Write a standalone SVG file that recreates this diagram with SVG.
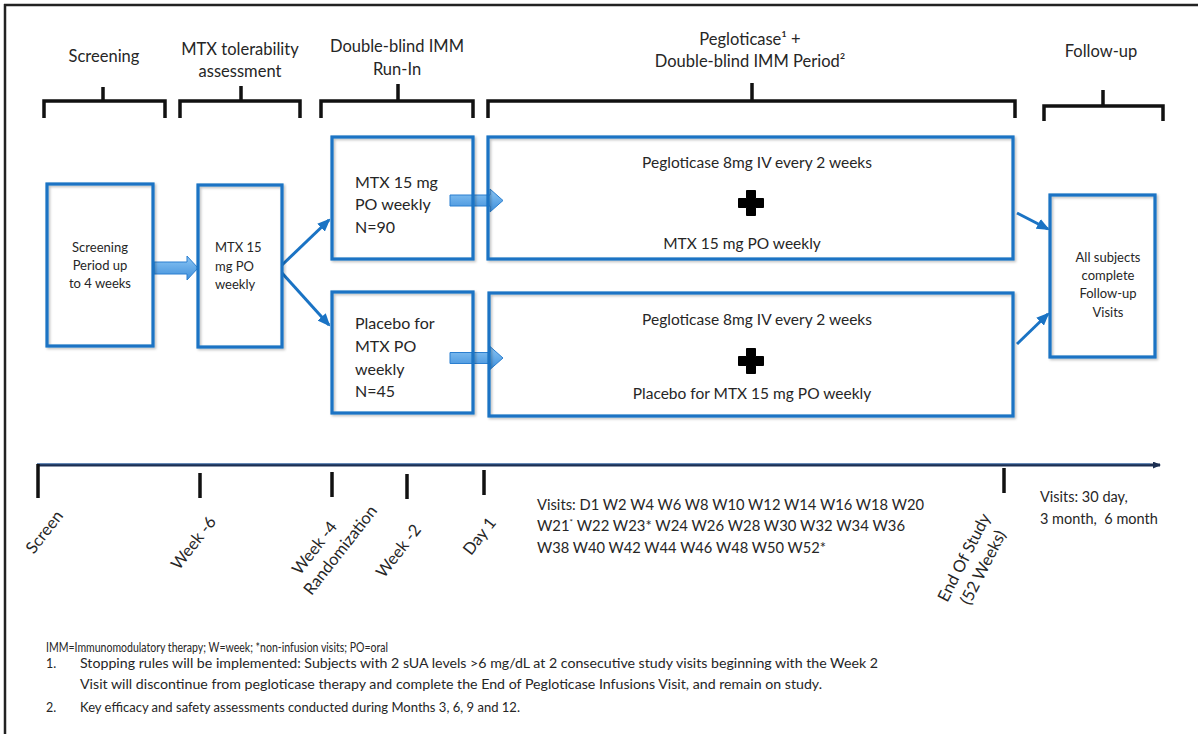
<svg xmlns="http://www.w3.org/2000/svg" width="1198" height="734" viewBox="0 0 1198 734">
<defs>
<style>
text{font-family:Lato,"Liberation Sans",sans-serif;fill:#262626}
.hd{font-size:16.5px;text-anchor:middle}
.box{fill:none;stroke:#1a73c4;stroke-width:3.2;filter:url(#sh)}
.br{fill:none;stroke:#111;stroke-width:3.5}
.con{fill:none;stroke:#1a73c4;stroke-width:3}
.blk{fill:url(#bg);stroke:#2b7fd0;stroke-width:1}
.sm{font-size:13px}
.md{font-size:16px}
.bx{font-size:15.5px;text-anchor:middle}
.tl{font-size:16.5px}
.vis{font-size:14.5px}
.fn{font-size:12.5px}
.tick{stroke:#111;stroke-width:3.5}
</style>
<linearGradient id="bg" x1="0" y1="0" x2="0" y2="1">
<stop offset="0" stop-color="#8cc6f4"/>
<stop offset="1" stop-color="#3f8fdb"/>
</linearGradient>
<filter id="sh" x="-5%" y="-5%" width="110%" height="110%">
<feDropShadow dx="1.5" dy="1.5" stdDeviation="1" flood-color="#000" flood-opacity="0.25"/>
</filter>
<marker id="ah" markerUnits="userSpaceOnUse" markerWidth="13" markerHeight="11" viewBox="0 0 13 11" refX="11" refY="5.5" orient="auto">
<path d="M0,0 L13,5.5 L0,11 Z" fill="#1a73c4"/>
</marker>
<marker id="tah" markerUnits="userSpaceOnUse" markerWidth="8" markerHeight="7" viewBox="0 0 8 7" refX="7" refY="3.5" orient="auto">
<path d="M0,0 L8,3.5 L0,7 Z" fill="#1c2f52"/>
</marker>
</defs>
<rect width="1198" height="734" fill="#fff"/>
<g id="frame"><path d="M4,5 H1198 M5,4 V734" fill="none" stroke="#222" stroke-width="2.5"/></g>

<g id="headers">
<text class="hd" x="104" y="62">Screening</text>
<text class="hd" x="240" y="55">MTX tolerability</text>
<text class="hd" x="240" y="77">assessment</text>
<text class="hd" x="397" y="52">Double-blind IMM</text>
<text class="hd" x="397" y="75">Run-In</text>
<text class="hd" x="750" y="45">Pegloticase¹ +</text>
<text class="hd" x="750" y="67">Double-blind IMM Period²</text>
<text class="hd" x="1101" y="57">Follow-up</text>
</g>

<g id="brackets">
<path class="br" d="M44,118 V101 H165 V118 M103,101 V87"/>
<path class="br" d="M180,118 V101 H300 V118 M241,101 V86"/>
<path class="br" d="M321,118 V101 H473 V118 M398,101 V84"/>
<path class="br" d="M488,118 V101 H1015 V118 M752,101 V83"/>
<path class="br" d="M1044,121 V106 H1163 V121 M1103,106 V90"/>
</g>

<g id="connectors">
<path class="blk" d="M154,262 H187 V256 L198,268 L187,280 V274 H154 Z"/>
<path class="blk" d="M450,195 H490 V189 L503,200.5 L490,212 V206 H450 Z"/>
<path class="blk" d="M450,352.5 H490 V346.5 L503,358 L490,369.5 V363.5 H450 Z"/>
<line class="con" x1="282" y1="265" x2="329" y2="220" marker-end="url(#ah)"/>
<line class="con" x1="282" y1="273" x2="329" y2="325" marker-end="url(#ah)"/>
<line class="con" x1="1017" y1="213" x2="1048" y2="229" marker-end="url(#ah)"/>
<line class="con" x1="1017" y1="344" x2="1048" y2="314" marker-end="url(#ah)"/>
</g>

<g id="screening">
<rect class="box" x="47" y="184" width="106" height="162"/>
<text class="sm" x="100" y="252" text-anchor="middle">Screening</text>
<text class="sm" x="100" y="270" text-anchor="middle">Period up</text>
<text class="sm" x="100" y="288" text-anchor="middle">to 4 weeks</text>
</g>

<g id="mtx-tol">
<rect class="box" x="198" y="185" width="84" height="162"/>
<text class="sm" x="215" y="252">MTX 15</text>
<text class="sm" x="215" y="271">mg PO</text>
<text class="sm" x="215" y="289">weekly</text>
</g>

<g id="runin-mtx">
<rect class="box" x="332" y="137" width="141" height="122"/>
<text class="md" x="355" y="188">MTX 15 mg</text>
<text class="md" x="355" y="210">PO weekly</text>
<text class="md" x="355" y="233">N=90</text>
</g>

<g id="runin-placebo">
<rect class="box" x="332" y="292" width="141" height="121"/>
<text class="md" x="355" y="329">Placebo for</text>
<text class="md" x="355" y="352">MTX PO</text>
<text class="md" x="355" y="375">weekly</text>
<text class="md" x="355" y="397">N=45</text>
</g>

<g id="peg-mtx">
<rect class="box" x="488" y="137" width="525" height="122"/>
<text class="bx" x="757" y="168">Pegloticase 8mg IV every 2 weeks</text>
<path d="M746.5,190.5 h9 v8 h8 v9 h-8 v8 h-9 v-8 h-8 v-9 h8 Z" fill="#000" stroke="#000" stroke-width="1" stroke-linejoin="round"/>
<text class="bx" x="742" y="249">MTX 15 mg PO weekly</text>
</g>

<g id="peg-placebo">
<rect class="box" x="489" y="293" width="524" height="123"/>
<text class="bx" x="757" y="325">Pegloticase 8mg IV every 2 weeks</text>
<path d="M746.5,348.5 h9 v8 h8 v9 h-8 v8 h-9 v-8 h-8 v-9 h8 Z" fill="#000" stroke="#000" stroke-width="1" stroke-linejoin="round"/>
<text class="bx" x="752" y="399">Placebo for MTX 15 mg PO weekly</text>
</g>

<g id="followup">
<rect class="box" x="1050" y="195" width="105" height="162"/>
<text class="sm" x="1108" y="262" text-anchor="middle">All subjects</text>
<text class="sm" x="1108" y="280" text-anchor="middle">complete</text>
<text class="sm" x="1108" y="298" text-anchor="middle">Follow-up</text>
<text class="sm" x="1108" y="317" text-anchor="middle">Visits</text>
</g>

<g id="timeline">
<line x1="37" y1="465" x2="1160" y2="465" stroke="#1c2f52" stroke-width="3" marker-end="url(#tah)"/>
<line x1="37" y1="465" x2="1150" y2="465" stroke="#4a7fc0" stroke-width="0.8" transform="translate(0,-1.2)"/>
<line class="tick" x1="38" y1="464" x2="38" y2="498"/>
<line class="tick" x1="200" y1="473" x2="200" y2="498"/>
<line class="tick" x1="332" y1="472" x2="332" y2="497"/>
<line class="tick" x1="407" y1="474" x2="407" y2="499"/>
<line class="tick" x1="484" y1="470" x2="484" y2="495"/>
<line class="tick" x1="1004" y1="468" x2="1004" y2="493"/>
<text class="tl" text-anchor="end" transform="translate(64,516) rotate(-52)">Screen</text>
<text class="tl" text-anchor="end" transform="translate(217,522) rotate(-52)">Week -6</text>
<text class="tl" text-anchor="end" transform="translate(338,527) rotate(-52)">Week -4</text>
<text class="tl" text-anchor="end" transform="translate(378,511) rotate(-52)">Randomization</text>
<text class="tl" text-anchor="end" transform="translate(422,530) rotate(-52)">Week -2</text>
<text class="tl" text-anchor="end" transform="translate(497,523) rotate(-52)">Day 1</text>
<text class="tl" text-anchor="middle" transform="translate(969,560) rotate(-63)">End Of Study</text>
<text class="tl" text-anchor="middle" transform="translate(988,570) rotate(-63)">(52 Weeks)</text>
<text class="vis" x="537" y="510" textLength="387" lengthAdjust="spacingAndGlyphs">Visits: D1 W2 W4 W6 W8 W10 W12 W14 W16 W18 W20</text>
<text class="vis" x="537" y="531" textLength="368" lengthAdjust="spacingAndGlyphs">W21<tspan font-size="8" dy="-6">*</tspan><tspan dy="6"> W22 W23* W24 W26 W28 W30 W32 W34 W36</tspan></text>
<text class="vis" x="537" y="553" textLength="289" lengthAdjust="spacingAndGlyphs">W38 W40 W42 W44 W46 W48 W50 W52*</text>
<text class="vis" x="1040" y="502">Visits: 30 day,</text>
<text class="vis" x="1040" y="524" xml:space="preserve">3 month,  6 month</text>
</g>

<g id="footnotes">
<text class="fn" x="46" y="652" textLength="342" lengthAdjust="spacingAndGlyphs">IMM=Immunomodulatory therapy; W=week; *non-infusion visits; PO=oral</text>
<text class="fn" x="46" y="668">1.</text>
<text class="fn" x="80" y="668" textLength="798" lengthAdjust="spacingAndGlyphs">Stopping rules will be implemented: Subjects with 2 sUA levels &gt;6 mg/dL at 2 consecutive study visits beginning with the Week 2</text>
<text class="fn" x="80" y="689" textLength="742" lengthAdjust="spacingAndGlyphs">Visit will discontinue from pegloticase therapy and complete the End of Pegloticase Infusions Visit, and remain on study.</text>
<text class="fn" x="46" y="712">2.</text>
<text class="fn" x="80" y="712" textLength="440" lengthAdjust="spacingAndGlyphs">Key efficacy and safety assessments conducted during Months 3, 6, 9 and 12.</text>
</g>
</svg>
